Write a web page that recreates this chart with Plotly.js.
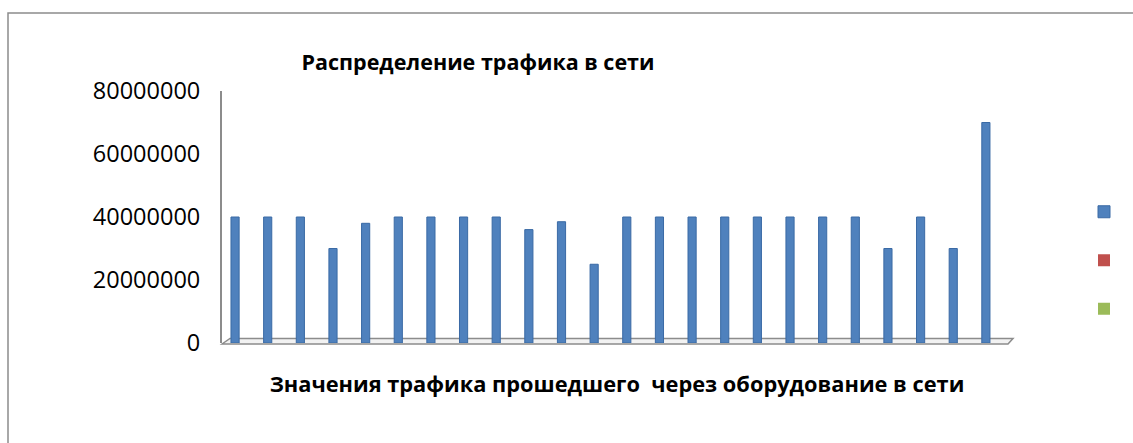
<!DOCTYPE html>
<html>
<head>
<meta charset="utf-8">
<script src="https://cdn.plot.ly/plotly-3.0.1.min.js"></script>
<style>html,body{margin:0;padding:0;background:#fff;}#chart{width:1133px;height:443px;}</style>
</head>
<body>
<div id="chart"></div>
<script>
const categories = [1,2,3,4,5,6,7,8,9,10,11,12,13,14,15,16,17,18,19,20,21,22,23,24];
const series1 = [40000000,40000000,40000000,30000000,38000000,40000000,40000000,40000000,40000000,36000000,38500000,25000000,
                 40000000,40000000,40000000,40000000,40000000,40000000,40000000,40000000,30000000,40000000,30000000,70000000];
const series2 = categories.map(() => null);
const series3 = categories.map(() => null);
const yTicks = [0,20000000,40000000,60000000,80000000];
const yTickText = ["0","20000000","40000000","60000000","80000000"];
const chartTitle = "Распределение трафика в сети";
const xTitle = "Значения трафика прошедшего  через оборудование в сети";

const W = 1133, H = 443, ML = 222, MR = 121, MT = 91, MB = 100;
const pw = W - ML - MR, ph = H - MT - MB;
const px = x => (x - ML) / pw;
const py = y => (H - MB - y) / ph;

const traces = [
  {type:'bar', x:categories, y:series1, name:' ', width:0.25,
   marker:{color:'#4F81BD', line:{color:'#3A6AA5', width:1}}, showlegend:true},
  {type:'bar', x:categories, y:series2, name:' ', width:0.25,
   marker:{color:'#C0504D'}, showlegend:true},
  {type:'bar', x:categories, y:series3, name:' ', width:0.25,
   marker:{color:'#9BBB59'}, showlegend:true}
];

const floorPath = `M ${px(222)} ${py(344)} L ${px(230)} ${py(338.5)} L ${px(1013)} ${py(338.5)} L ${px(1008)} ${py(344)} Z`;

const layout = {
  width: W, height: H,
  margin: {l: ML, r: MR, t: MT, b: MB, pad: 0, autoexpand: false},
  paper_bgcolor: '#ffffff', plot_bgcolor: 'rgba(0,0,0,0)',
  barmode: 'overlay',
  font: {family: 'Open Sans, sans-serif', color: '#000'},
  title: {text: '<b>' + chartTitle + '</b>', x: px(478), xref: 'paper', xanchor: 'center',
          y: 1 - 62 / H, yref: 'container', yanchor: 'middle',
          font: {family: 'Open Sans, sans-serif', size: 21.5, color: '#000'}},
  xaxis: {type: 'linear', range: [0.6, 24.8], showticklabels: false, ticks: '', showgrid: false,
          zeroline: false, showline: false, fixedrange: true,
          title: {text: '<b>' + xTitle + '</b>', standoff: 33,
                  font: {family: 'Open Sans, sans-serif', size: 21.8, color: '#000'}}},
  yaxis: {range: [0, 80000000], tickvals: yTicks, ticktext: yTickText, showgrid: false,
          zeroline: false, showline: true, linecolor: '#8c8c8c', linewidth: 2, ticks: '',
          ticklabelstandoff: 15, tickfont: {family: 'Open Sans, sans-serif', size: 23.5, color: '#000'},
          fixedrange: true},
  showlegend: true,
  legend: {x: px(1084), xanchor: 'left', y: py(260.5), yanchor: 'middle',
           font: {size: 35, color: '#000'}, bgcolor: 'rgba(0,0,0,0)', borderwidth: 0,
           itemclick: false, itemdoubleclick: false, traceorder: 'normal'},
  shapes: [
    {type: 'path', xref: 'paper', yref: 'paper', path: floorPath, fillcolor: '#f2f2f2',
     line: {color: '#8c8c8c', width: 1.5}, layer: 'below'},
    {type: 'rect', xref: 'paper', yref: 'paper', x0: px(8), x1: px(1145), y0: py(455), y1: py(13),
     line: {color: '#8c8c8c', width: 1.5}, fillcolor: 'rgba(0,0,0,0)', layer: 'below'}
  ]
};

Plotly.newPlot('chart', traces, layout, {displayModeBar: false, staticPlot: true});
</script>
</body>
</html>
